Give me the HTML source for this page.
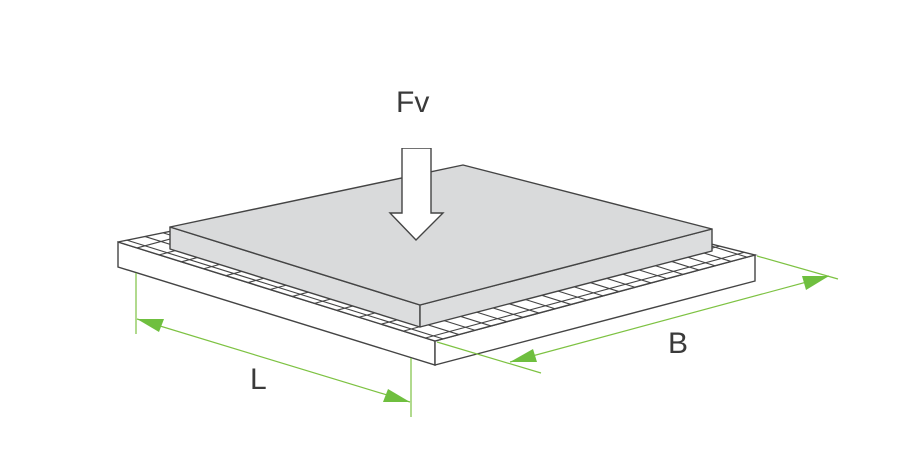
<!DOCTYPE html>
<html><head><meta charset="utf-8"><style>
html,body{margin:0;padding:0;background:#fff;}
svg{display:block;}
text{font-family:"Liberation Sans","DejaVu Sans",sans-serif;fill:#3a3a3a;}
</style></head><body>
<svg id="s" width="900" height="454" viewBox="0 0 900 454" xmlns="http://www.w3.org/2000/svg">
<defs>
<clipPath id="top"><polygon points="118,242 440,176 755,255 435,341"/></clipPath>
</defs>
<polygon points="118,242 435,341 435,365 118,267" fill="#fff" stroke="#444" stroke-width="1.4"/>
<polygon points="435,341 755,255 755,281 435,365" fill="#fff" stroke="#444" stroke-width="1.4"/>
<polygon points="118,242 440,176 755,255 435,341" fill="#fff" stroke="#444" stroke-width="1.4"/>
<g id="grid" clip-path="url(#top)" stroke="#444" stroke-width="1.1"></g>
<polygon points="170,227 420,305 420,327 170,249" fill="#dcddde" stroke="#444" stroke-width="1.4" stroke-linejoin="round"/>
<polygon points="420,305 712,229 712,251 420,327" fill="#dcddde" stroke="#444" stroke-width="1.4" stroke-linejoin="round"/>
<polygon points="170,227 463,165 712,229 420,305" fill="#d9dadb" stroke="#444" stroke-width="1.4" stroke-linejoin="round"/>
<polygon points="402,148 431,148 431,213 443,213 416,240 390,213 402,213" fill="#fff" stroke="#444" stroke-width="1.4"/>
<rect x="398" y="140" width="38" height="8" fill="#fff"/>
<text x="396" y="112" font-size="30">Fv</text>
<g stroke="#7dc242" stroke-width="1.2" fill="none">
<line x1="136" y1="273" x2="136" y2="334"/>
<line x1="411" y1="358" x2="411" y2="417"/>
<line x1="137" y1="319" x2="410" y2="402"/>
<line x1="437" y1="342" x2="541" y2="373"/>
<line x1="757" y1="256" x2="838" y2="279"/>
<line x1="510" y1="362" x2="829" y2="276"/>
</g>
<g fill="#6fbf3f">
<polygon points="137,319 164,319 159,332"/>
<polygon points="410,402 383,402 388,389"/>
<polygon points="510,362 533,349 537,362"/>
<polygon points="829,276 802,276 806,290"/>
</g>
<text x="250" y="389" font-size="30">L</text>
<text x="668" y="353" font-size="30">B</text>
</svg>
<script>
var g=document.getElementById('grid'),NS='http://www.w3.org/2000/svg';
var O=[435,341],u=[-317,-99],v=[320,-86];
function P(a,b){return [O[0]+a*u[0]+b*v[0],O[1]+a*u[1]+b*v[1]];}
function L(p,q){var l=document.createElementNS(NS,'line');l.setAttribute('x1',p[0]);l.setAttribute('y1',p[1]);l.setAttribute('x2',q[0]);l.setAttribute('y2',q[1]);g.appendChild(l);}
for(var a=0.03;a<1;a+=0.07){L(P(a,0),P(a,1));}
for(var b=0.025;b<1;b+=0.05){L(P(0,b),P(1,b));}
</script>
</body></html>
